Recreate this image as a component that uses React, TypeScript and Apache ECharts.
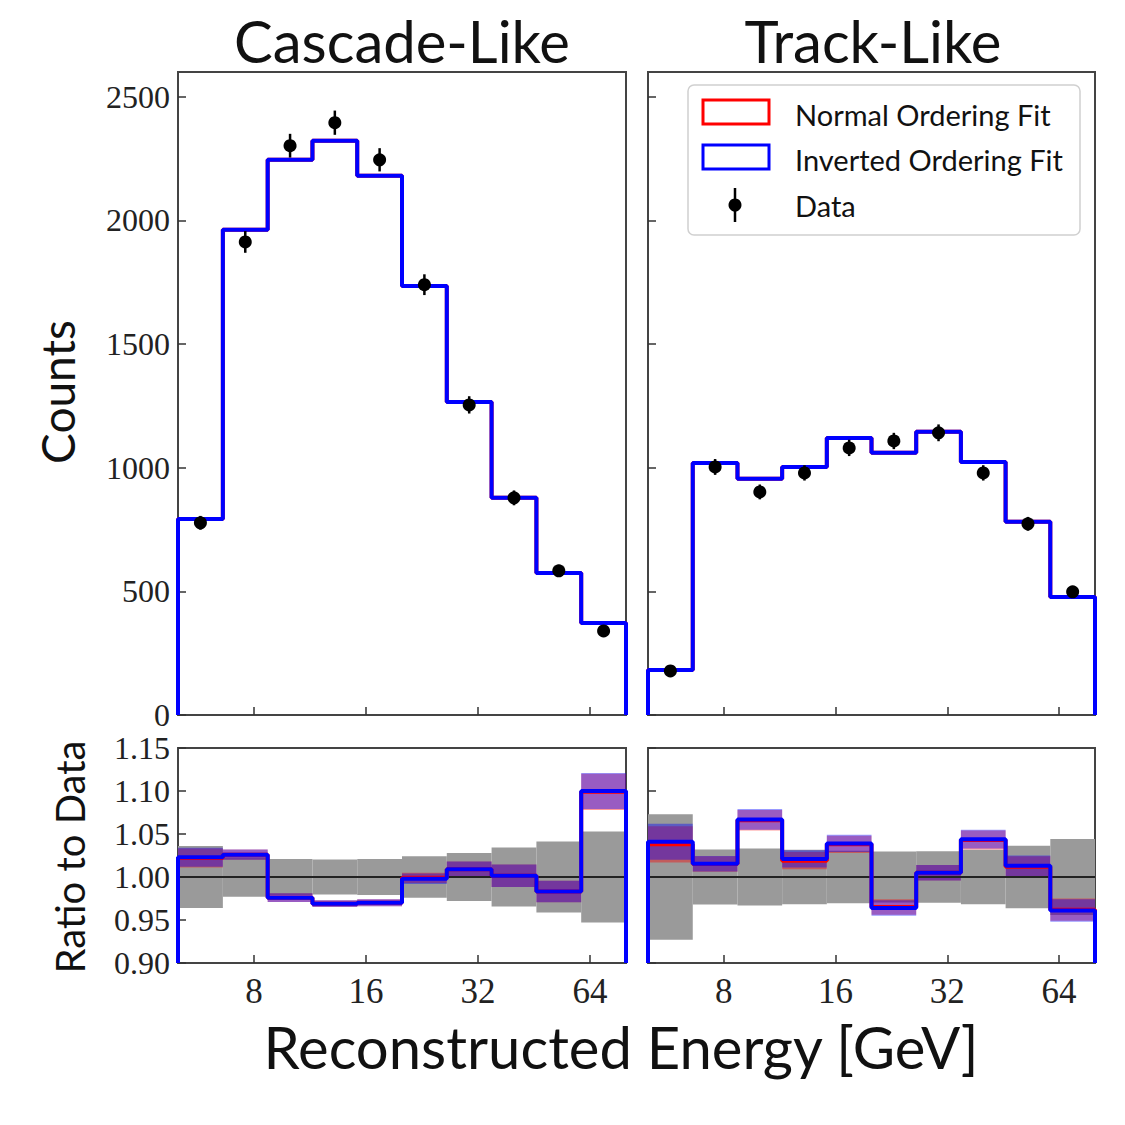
import React, { useEffect, useRef } from 'react';
import * as echarts from 'echarts';

// Bin edges in GeV (10 log-uniform bins, 5 to 80 GeV)
const BIN_EDGES_GEV = [5, 6.6, 8.71, 11.49, 15.16, 20.0, 26.39, 34.82, 45.95, 60.63, 80];
const X_TICKS_GEV = [8, 16, 32, 64];

// Counts panels
const CASCADE_NO_FIT = [793, 1962, 2245, 2322, 2180, 1735, 1266, 878, 574, 372];
const CASCADE_IO_FIT = [793, 1962, 2245, 2322, 2180, 1735, 1266, 878, 574, 372];
const CASCADE_DATA = [777, 1913, 2302, 2395, 2245, 1740, 1254, 878, 583, 340];
const CASCADE_DATA_ERR = [28, 44, 48, 49, 47, 42, 35, 30, 24, 18];

const TRACK_NO_FIT = [182, 1019, 955, 1003, 1120, 1060, 1145, 1023, 781, 477];
const TRACK_IO_FIT = [182, 1019, 955, 1003, 1120, 1060, 1145, 1023, 781, 477];
const TRACK_DATA = [178, 1003, 902, 979, 1080, 1108, 1141, 979, 773, 498];
const TRACK_DATA_ERR = [13, 32, 30, 31, 33, 33, 34, 31, 28, 22];

// Ratio panels
const CASCADE_RATIO_NO = [1.022, 1.026, 0.976, 0.969, 0.970, 0.999, 1.009, 1.0015, 0.983, 1.099];
const CASCADE_RATIO_IO = [1.023, 1.026, 0.976, 0.969, 0.970, 0.998, 1.009, 1.0015, 0.983, 1.100];
const CASCADE_RATIO_BAND = [0.011, 0.006, 0.005, 0.004, 0.004, 0.006, 0.009, 0.013, 0.0125, 0.021];

const TRACK_RATIO_NO = [1.038, 1.015, 1.066, 1.019, 1.038, 0.965, 1.005, 1.043, 1.012, 0.962];
const TRACK_RATIO_IO = [1.041, 1.0155, 1.067, 1.021, 1.039, 0.964, 1.005, 1.044, 1.013, 0.961];
const TRACK_RATIO_BAND = [0.021, 0.009, 0.012, 0.01, 0.01, 0.009, 0.009, 0.011, 0.012, 0.013];

const COUNT_TICKS = [0, 500, 1000, 1500, 2000, 2500];

const lg = (v: number) => Math.log2(v);
const SERIF = '"Liberation Serif", "DejaVu Serif", serif';
const SANS = 'Lato, "Open Sans", sans-serif';

function stepPoints(vals: number[], floor: number) {
  const pts: number[][] = [[lg(BIN_EDGES_GEV[0]), floor]];
  vals.forEach((v, i) => {
    pts.push([lg(BIN_EDGES_GEV[i]), v]);
    pts.push([lg(BIN_EDGES_GEV[i + 1]), v]);
  });
  pts.push([lg(BIN_EDGES_GEV[BIN_EDGES_GEV.length - 1]), floor]);
  return pts;
}

function bandData(center: number[], half: number[]) {
  return center.map((c, i) => [lg(BIN_EDGES_GEV[i]), lg(BIN_EDGES_GEV[i + 1]), c - half[i], c + half[i]]);
}

function bandSeries(idx: number, data: number[][], color: string, z: number) {
  return {
    type: 'custom',
    xAxisIndex: idx,
    yAxisIndex: idx,
    z,
    clip: true,
    data,
    encode: { x: [0, 1], y: [2, 3] },
    renderItem: (params: any, api: any) => {
      const p1 = api.coord([api.value(0), api.value(3)]);
      const p2 = api.coord([api.value(1), api.value(2)]);
      return {
        type: 'rect',
        shape: { x: p1[0], y: p1[1], width: p2[0] - p1[0], height: p2[1] - p1[1] },
        style: { fill: color },
      };
    },
  };
}

function errorSeries(idx: number, vals: number[], errs: number[]) {
  const data = vals.map((v, i) => [
    (lg(BIN_EDGES_GEV[i]) + lg(BIN_EDGES_GEV[i + 1])) / 2,
    v,
    v - errs[i],
    v + errs[i],
  ]);
  return {
    type: 'custom',
    name: 'Data',
    xAxisIndex: idx,
    yAxisIndex: idx,
    z: 10,
    data,
    encode: { x: 0, y: [1, 2, 3] },
    renderItem: (params: any, api: any) => {
      const c = api.coord([api.value(0), api.value(1)]);
      const lo = api.coord([api.value(0), api.value(2)]);
      const hi = api.coord([api.value(0), api.value(3)]);
      return {
        type: 'group',
        children: [
          { type: 'line', shape: { x1: lo[0], y1: lo[1], x2: hi[0], y2: hi[1] }, style: { stroke: '#000', lineWidth: 2.5 } },
          { type: 'circle', shape: { cx: c[0], cy: c[1], r: 6.5 }, style: { fill: '#000' } },
        ],
      };
    },
  };
}

function lineSeries(idx: number, name: string, pts: number[][], color: string, width: number, z: number) {
  return {
    type: 'line',
    name,
    xAxisIndex: idx,
    yAxisIndex: idx,
    data: pts,
    symbol: 'none',
    z,
    clip: true,
    lineStyle: { color, width },
  };
}

const GRIDS = [
  { left: 178, top: 72, width: 448, height: 643 },
  { left: 648, top: 72, width: 447, height: 643 },
  { left: 178, top: 748, width: 448, height: 215 },
  { left: 648, top: 748, width: 447, height: 215 },
];

export default function App() {
  const ref = useRef<HTMLDivElement>(null);
  useEffect(() => {
    if (!ref.current) return;
    const chart = echarts.init(ref.current, null, { renderer: 'svg' });
    const xTickVals = X_TICKS_GEV.map(lg);
    const tickStyle = { color: '#333', width: 1.5 };

    const xAxes = GRIDS.map((_, g) => ({
      type: 'value',
      gridIndex: g,
      min: lg(BIN_EDGES_GEV[0]),
      max: lg(BIN_EDGES_GEV[BIN_EDGES_GEV.length - 1]),
      axisLine: { show: false },
      splitLine: { show: false },
      axisTick: { show: true, inside: true, length: 8, customValues: xTickVals, lineStyle: tickStyle },
      axisLabel: {
        show: g >= 2,
        customValues: xTickVals,
        formatter: (v: number) => String(Math.round(Math.pow(2, v))),
        fontFamily: SERIF,
        fontSize: 35,
        lineHeight: 28,
        color: '#222',
        margin: 14,
      },
    }));

    const yAxes = [0, 1, 2, 3].map((g) => {
      const isRatio = g >= 2;
      return {
        type: 'value',
        gridIndex: g,
        min: isRatio ? 0.9 : 0,
        max: isRatio ? 1.15 : 2600,
        interval: isRatio ? 0.05 : 500,
        axisLine: { show: false },
        splitLine: { show: false },
        axisTick: {
          show: true,
          inside: true,
          length: 8,
          lineStyle: tickStyle,
          ...(isRatio ? {} : { customValues: COUNT_TICKS }),
        },
        axisLabel: {
          show: g === 0 || g === 2,
          ...(isRatio ? {} : { customValues: COUNT_TICKS }),
          formatter: (v: number) => (isRatio ? v.toFixed(2) : String(v)),
          fontFamily: SERIF,
          fontSize: 32,
          lineHeight: 28,
          color: '#222',
          margin: 8,
        },
      };
    });

    const red = 'rgba(255,0,0,0.4)';
    const blue = 'rgba(0,0,255,0.4)';
    const grey = '#9a9a9a';

    const series: any[] = [
      // counts panels
      lineSeries(0, 'Normal Ordering Fit', stepPoints(CASCADE_NO_FIT, 0), '#ff0000', 4, 3),
      lineSeries(0, 'Inverted Ordering Fit', stepPoints(CASCADE_IO_FIT, 0), '#0000ff', 4, 4),
      errorSeries(0, CASCADE_DATA, CASCADE_DATA_ERR),
      lineSeries(1, 'Normal Ordering Fit', stepPoints(TRACK_NO_FIT, 0), '#ff0000', 4, 3),
      lineSeries(1, 'Inverted Ordering Fit', stepPoints(TRACK_IO_FIT, 0), '#0000ff', 4, 4),
      errorSeries(1, TRACK_DATA, TRACK_DATA_ERR),
      // ratio panels
      bandSeries(2, bandData(CASCADE_DATA.map(() => 1), CASCADE_DATA_ERR.map((e, i) => e / CASCADE_DATA[i])), grey, 1),
      bandSeries(2, bandData(CASCADE_RATIO_NO, CASCADE_RATIO_BAND), red, 2),
      bandSeries(2, bandData(CASCADE_RATIO_IO, CASCADE_RATIO_BAND), blue, 2),
      lineSeries(2, 'One', [[lg(BIN_EDGES_GEV[0]), 1], [lg(BIN_EDGES_GEV[10]), 1]], '#222', 2, 3),
      lineSeries(2, 'Normal Ordering Fit', stepPoints(CASCADE_RATIO_NO, 0.9), '#ff0000', 4, 4),
      lineSeries(2, 'Inverted Ordering Fit', stepPoints(CASCADE_RATIO_IO, 0.9), '#0000ff', 4, 5),
      bandSeries(3, bandData(TRACK_DATA.map(() => 1), TRACK_DATA_ERR.map((e, i) => e / TRACK_DATA[i])), grey, 1),
      bandSeries(3, bandData(TRACK_RATIO_NO, TRACK_RATIO_BAND), red, 2),
      bandSeries(3, bandData(TRACK_RATIO_IO, TRACK_RATIO_BAND), blue, 2),
      lineSeries(3, 'One', [[lg(BIN_EDGES_GEV[0]), 1], [lg(BIN_EDGES_GEV[10]), 1]], '#222', 2, 3),
      lineSeries(3, 'Normal Ordering Fit', stepPoints(TRACK_RATIO_NO, 0.9), '#ff0000', 4, 4),
      lineSeries(3, 'Inverted Ordering Fit', stepPoints(TRACK_RATIO_IO, 0.9), '#0000ff', 4, 5),
    ];

    const txt = (text: string, x: number, y: number, size: number, rot = 0, align = 'center') => ({
      type: 'text',
      x,
      y,
      rotation: rot,
      z: 100,
      style: {
        text,
        fill: '#111',
        font: `${size}px ${SANS}`,
        lineHeight: Math.round(size * 0.9),
        textAlign: align,
        textVerticalAlign: 'middle',
        verticalAlign: 'middle',
      },
    });

    chart.setOption({
      animation: false,
      backgroundColor: '#fff',
      grid: GRIDS.map((g) => ({ ...g, show: true, borderColor: '#444', borderWidth: 2, backgroundColor: 'transparent' })),
      xAxis: xAxes,
      yAxis: yAxes,
      series,
      graphic: [
        txt('Cascade-Like', 402, 40, 58),
        txt('Track-Like', 873, 40, 58),
        txt('Counts', 57, 392, 46, Math.PI / 2),
        txt('Ratio to Data', 70, 857, 40, Math.PI / 2),
        txt('Reconstructed Energy [GeV]', 621, 1046, 58),
        {
          type: 'group',
          z: 90,
          children: [
            { type: 'rect', shape: { x: 688, y: 85, width: 392, height: 150, r: 6 }, style: { fill: '#fff', stroke: '#d0d0d0', lineWidth: 1.5 }, z: 90 },
            { type: 'rect', shape: { x: 703, y: 100, width: 66, height: 24 }, style: { fill: 'none', stroke: '#ff0000', lineWidth: 3 }, z: 91 },
            { type: 'rect', shape: { x: 703, y: 145, width: 66, height: 24 }, style: { fill: 'none', stroke: '#0000ff', lineWidth: 3 }, z: 91 },
            { type: 'line', shape: { x1: 735, y1: 188, x2: 735, y2: 222 }, style: { stroke: '#000', lineWidth: 2.5 }, z: 91 },
            { type: 'circle', shape: { cx: 735, cy: 205, r: 6.5 }, style: { fill: '#000' }, z: 91 },
          ],
        },
        txt('Normal Ordering Fit', 795, 114, 29, 0, 'left'),
        txt('Inverted Ordering Fit', 795, 159, 29, 0, 'left'),
        txt('Data', 795, 205, 29, 0, 'left'),
      ],
    });
    return () => chart.dispose();
  }, []);
  return <div ref={ref} style={{ position: 'fixed', left: 0, top: 0, width: 1125, height: 1125 }} />;
}
